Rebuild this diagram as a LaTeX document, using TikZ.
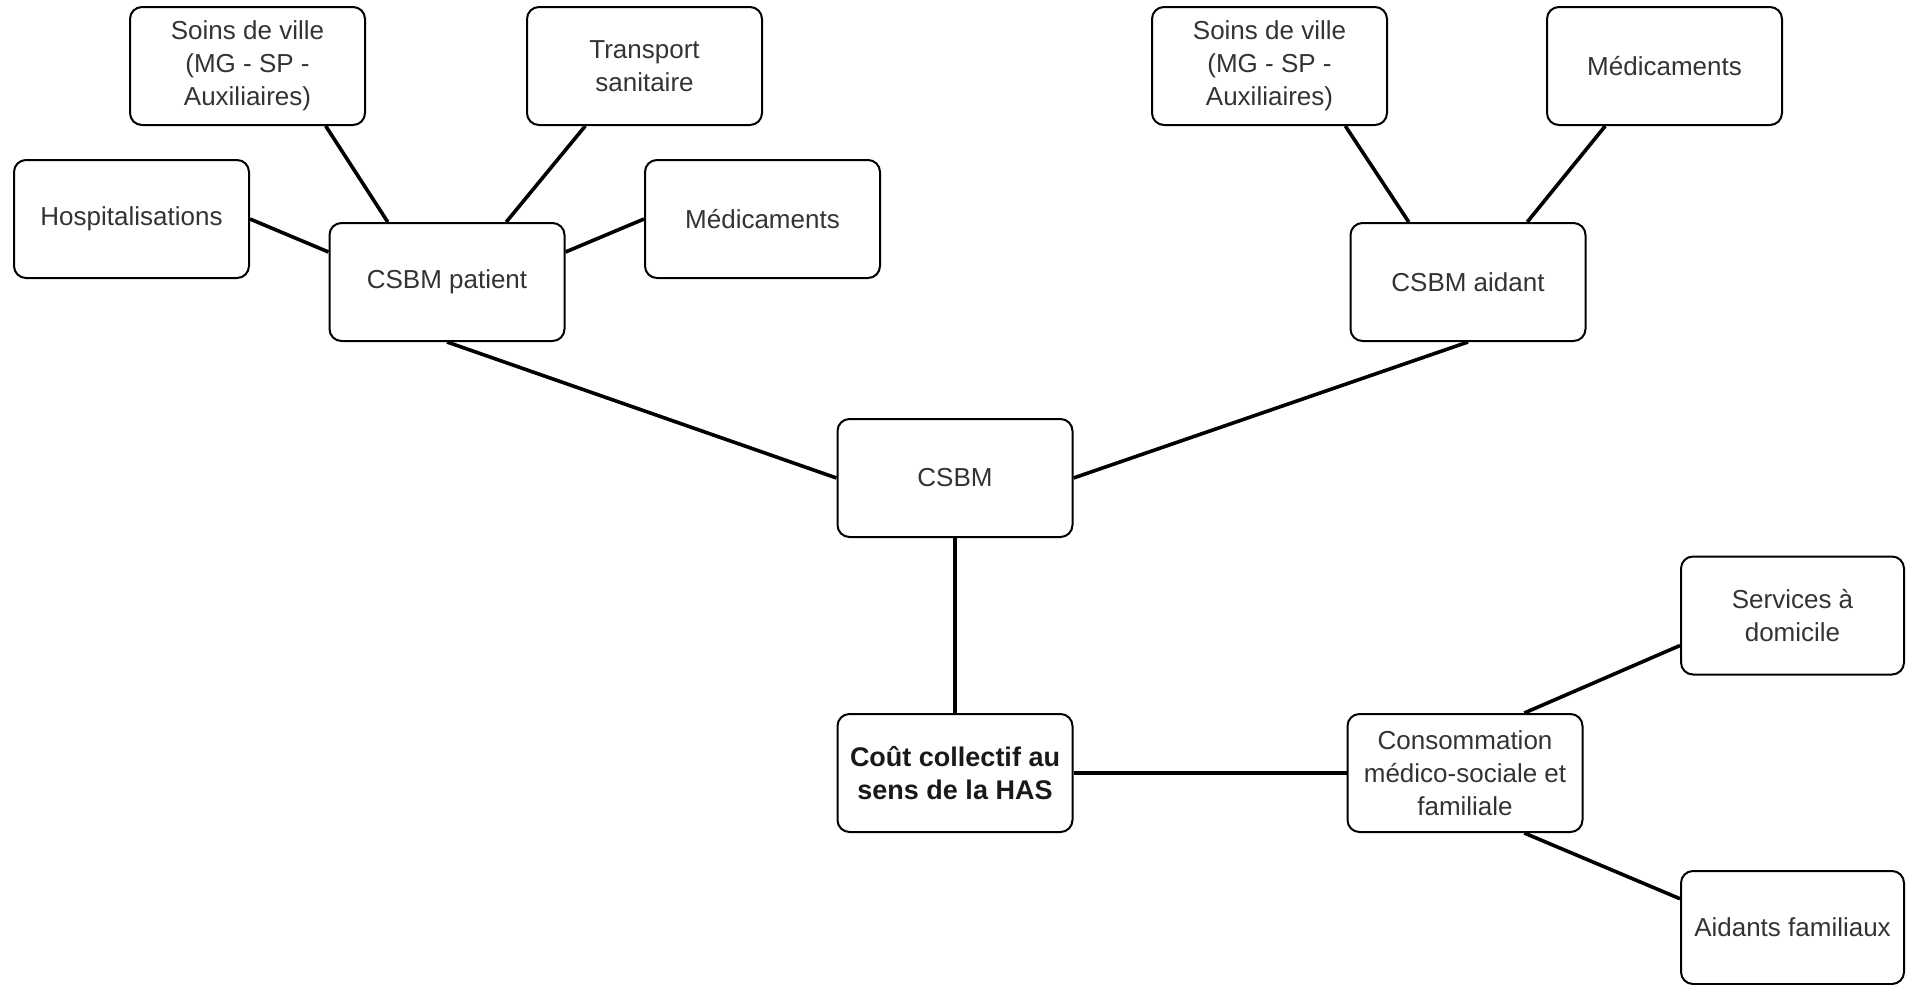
\documentclass[tikz,border=0pt]{standalone}
\usepackage{fontspec}
\setmainfont{Liberation Sans}
\usetikzlibrary{calc}
\definecolor{txtgray}{HTML}{333333}

\begin{document}
\begin{tikzpicture}[x=0.5pt, y=-0.5pt,
    box/.style={draw, line width=1pt, rounded corners=6pt, minimum width=117.5pt, minimum height=59pt,
      align=center, text=txtgray, inner sep=2pt, font=\fontsize{13}{16.5}\selectfont},
    link/.style={line width=1.8pt}]
            \clip (0,0) rectangle (1906,985);
            % CSBM patient
            \node[box] (soinsP) at (247.5,66) {Soins de ville\\(MG - SP -\\Auxiliaires)};
            \node[box] (transport) at (644.5,66) {Transport\\sanitaire};
            \node[box] (hosp) at (131.5,219) {Hospitalisations};
            \node[box] (medsP) at (762.5,219) {Médicaments};
            \node[box] (patient) at (447,282) {CSBM patient};
            % CSBM aidant
            \node[box] (soinsA) at (1269.5,66) {Soins de ville\\(MG - SP -\\Auxiliaires)};
            \node[box] (medsA) at (1664.5,66) {Médicaments};
            \node[box] (aidant) at (1468,282) {CSBM aidant};
            % centre
            \node[box] (csbm) at (955,478) {CSBM};
            \node[box, text=black!90, font=\fontsize{13.5}{16.5}\selectfont\bfseries] (cout) at (955,773) {Coût collectif au\\sens de la HAS};
            \node[box] (conso) at (1465,773) {Consommation\\médico-sociale et\\familiale};
            \node[box, minimum width=111.5pt] (services) at (1792.5,615.5) {Services à\\domicile};
            \node[box, minimum width=111.5pt, minimum height=56.5pt] (aidants) at (1792.5,927.5) {Aidants familiaux};
            % liens
            \draw[link] ($(soinsP.south west)!0.83!(soinsP.south east)$) -- ($(patient.north west)!0.25!(patient.north east)$);
            \draw[link] ($(transport.south west)!0.25!(transport.south east)$) -- ($(patient.north west)!0.75!(patient.north east)$);
            \draw[link] (hosp.east) -- ($(patient.north west)!0.25!(patient.south west)$);
            \draw[link] (medsP.west) -- ($(patient.north east)!0.25!(patient.south east)$);
            \draw[link] (patient.south) -- (csbm.west);
            \draw[link] ($(soinsA.south west)!0.82!(soinsA.south east)$) -- ($(aidant.north west)!0.25!(aidant.north east)$);
            \draw[link] ($(medsA.south west)!0.25!(medsA.south east)$) -- ($(aidant.north west)!0.75!(aidant.north east)$);
            \draw[link] (aidant.south) -- (csbm.east);
            \draw[link] (csbm.south) -- (cout.north);
            \draw[link] (cout.east) -- (conso.west);
            \draw[link] ($(conso.north west)!0.75!(conso.north east)$) -- ($(services.north west)!0.75!(services.south west)$);
            \draw[link] ($(conso.south west)!0.75!(conso.south east)$) -- ($(aidants.north west)!0.25!(aidants.south west)$);
        \end{tikzpicture}
\end{document}
